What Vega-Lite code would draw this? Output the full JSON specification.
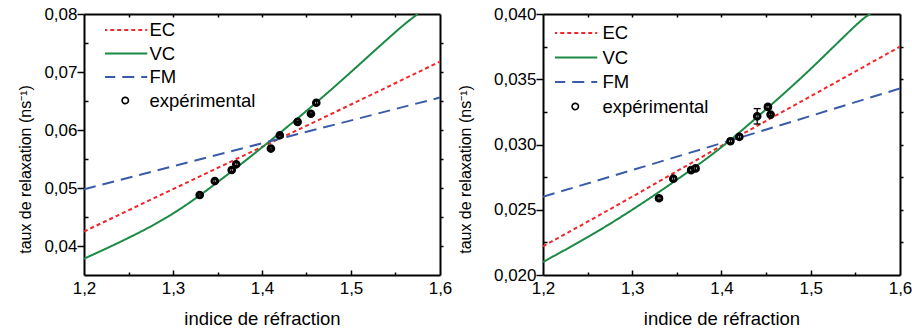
{
  "$schema": "https://vega.github.io/schema/vega-lite/v6.json",
  "padding": {"left": 17, "top": 5, "right": 2, "bottom": 2},
  "bounds": "flush",
  "spacing": 103,
  "config": {
    "font": "Liberation Sans",
    "view": {"stroke": null},
    "axis": {"grid": false, "domainColor": "black", "tickColor": "black", "labelColor": "black", "titleColor": "black", "tickWidth": 1.5, "domainWidth": 2}
  },
  "resolve": {"scale": {"color": "independent", "strokeDash": "independent"}},
  "datasets": {
    "courbes525": [
      {"n": 1.2, "tau": 0.0425, "modele": "EC"},
      {"n": 1.3, "tau": 0.0498, "modele": "EC"},
      {"n": 1.4, "tau": 0.0571, "modele": "EC"},
      {"n": 1.5, "tau": 0.0644, "modele": "EC"},
      {"n": 1.6, "tau": 0.0718, "modele": "EC"},
      {"n": 1.2, "tau": 0.0378, "modele": "VC"},
      {"n": 1.25, "tau": 0.0414, "modele": "VC"},
      {"n": 1.3, "tau": 0.0456, "modele": "VC"},
      {"n": 1.35, "tau": 0.051, "modele": "VC"},
      {"n": 1.4, "tau": 0.057, "modele": "VC"},
      {"n": 1.45, "tau": 0.0633, "modele": "VC"},
      {"n": 1.5, "tau": 0.07, "modele": "VC"},
      {"n": 1.55, "tau": 0.0769, "modele": "VC"},
      {"n": 1.575, "tau": 0.08, "modele": "VC"},
      {"n": 1.2, "tau": 0.0498, "modele": "FM"},
      {"n": 1.4, "tau": 0.0577, "modele": "FM"},
      {"n": 1.6, "tau": 0.0656, "modele": "FM"}
    ],
    "mesures525": [
      {"n": 1.33, "tau": 0.0488, "tau_min": 0.0488, "tau_max": 0.0488},
      {"n": 1.347, "tau": 0.0512, "tau_min": 0.0509, "tau_max": 0.0515},
      {"n": 1.366, "tau": 0.0531, "tau_min": 0.0528, "tau_max": 0.0534},
      {"n": 1.371, "tau": 0.0541, "tau_min": 0.0538, "tau_max": 0.0544},
      {"n": 1.41, "tau": 0.0568, "tau_min": 0.0567, "tau_max": 0.0569},
      {"n": 1.42, "tau": 0.0591, "tau_min": 0.059, "tau_max": 0.0592},
      {"n": 1.44, "tau": 0.0614, "tau_min": 0.0613, "tau_max": 0.0615},
      {"n": 1.455, "tau": 0.0628, "tau_min": 0.0627, "tau_max": 0.0629},
      {"n": 1.461, "tau": 0.0647, "tau_min": 0.0644, "tau_max": 0.065}
    ],
    "courbes655": [
      {"n": 1.2, "tau": 0.0222, "modele": "EC"},
      {"n": 1.3, "tau": 0.026, "modele": "EC"},
      {"n": 1.4, "tau": 0.0299, "modele": "EC"},
      {"n": 1.5, "tau": 0.0337, "modele": "EC"},
      {"n": 1.6, "tau": 0.0375, "modele": "EC"},
      {"n": 1.2, "tau": 0.021, "modele": "VC"},
      {"n": 1.25, "tau": 0.0229, "modele": "VC"},
      {"n": 1.3, "tau": 0.025, "modele": "VC"},
      {"n": 1.35, "tau": 0.0273, "modele": "VC"},
      {"n": 1.4, "tau": 0.0298, "modele": "VC"},
      {"n": 1.45, "tau": 0.0327, "modele": "VC"},
      {"n": 1.5, "tau": 0.0358, "modele": "VC"},
      {"n": 1.55, "tau": 0.0391, "modele": "VC"},
      {"n": 1.567, "tau": 0.04, "modele": "VC"},
      {"n": 1.2, "tau": 0.026, "modele": "FM"},
      {"n": 1.4, "tau": 0.0301, "modele": "FM"},
      {"n": 1.6, "tau": 0.0343, "modele": "FM"}
    ],
    "mesures655": [
      {"n": 1.33, "tau": 0.02588, "tau_min": 0.02573, "tau_max": 0.02603},
      {"n": 1.346, "tau": 0.02738, "tau_min": 0.02723, "tau_max": 0.02753},
      {"n": 1.366, "tau": 0.02804, "tau_min": 0.02789, "tau_max": 0.02819},
      {"n": 1.371, "tau": 0.02817, "tau_min": 0.02802, "tau_max": 0.02832},
      {"n": 1.41, "tau": 0.03025, "tau_min": 0.0301, "tau_max": 0.0304},
      {"n": 1.42, "tau": 0.03059, "tau_min": 0.03044, "tau_max": 0.03074},
      {"n": 1.44, "tau": 0.03216, "tau_min": 0.03157, "tau_max": 0.03275},
      {"n": 1.452, "tau": 0.03288, "tau_min": 0.03273, "tau_max": 0.03303},
      {"n": 1.455, "tau": 0.03229, "tau_min": 0.03222, "tau_max": 0.03236}
    ]
  },
  "hconcat": [
    {
      "width": 356,
      "height": 261,
      "resolve": {"axis": {"x": "independent", "y": "independent"}},
      "layer": [
        {
          "data": {"name": "courbes525"},
          "mark": {"type": "line", "strokeWidth": 2, "interpolate": "natural", "clip": true},
          "encoding": {
            "x": {"field": "n", "type": "quantitative", "scale": {"domain": [1.2, 1.6], "nice": false, "zero": false},
              "axis": {"orient": "bottom", "values": [1.2, 1.3, 1.4, 1.5, 1.6], "ticks": false, "tickSize": 0, "labelPadding": 5, "labelFontSize": 17, "labelFlush": false, "labelOverlap": false, "labelExpr": "replace(format(datum.value, '.1f'), '.', ',')", "title": "indice de réfraction", "titleFontSize": 18.5, "titleFontWeight": "normal", "titlePadding": 13}},
            "y": {"field": "tau", "type": "quantitative", "scale": {"domain": [0.035, 0.08], "nice": false, "zero": false},
              "axis": {"orient": "left", "values": [0.04, 0.05, 0.06, 0.07, 0.08], "ticks": false, "tickSize": 0, "labelPadding": 7, "labelFontSize": 17, "labelFlush": false, "labelOverlap": false, "labelExpr": "replace(format(datum.value, '.2f'), '.', ',')", "title": "taux de relaxation (ns⁻¹)", "titleFontSize": 16, "titleFontWeight": "normal", "titlePadding": 10, "titleY": 155}},
            "color": {"field": "modele", "type": "nominal", "scale": {"domain": ["EC", "VC", "FM", "expérimental"], "range": ["#f5262b", "#1b8a45", "#3a5ba8", "black"]},
              "legend": {"orient": "none", "legendX": 21, "legendY": 6.75, "title": null, "symbolType": "stroke", "symbolSize": 1936, "symbolStrokeWidth": 2, "symbolOffset": 11, "clipHeight": 18.5, "labelFontSize": 18.5, "labelColor": "black", "labelOffset": 15, "rowPadding": 4.5, "padding": 0,
                "encode": {"symbols": {"update": {
                  "shape": {"signal": "datum.value === 'expérimental' ? 'circle' : 'stroke'"},
                  "size": {"signal": "datum.value === 'expérimental' ? 40 : 1936"},
                  "fill": {"signal": "datum.value === 'expérimental' ? 'white' : 'transparent'"},
                  "strokeWidth": {"signal": "datum.value === 'expérimental' ? 1.6 : 2"}}}}}},
            "strokeDash": {"field": "modele", "type": "nominal", "scale": {"domain": ["EC", "VC", "FM", "expérimental"], "range": [[4, 3], [1, 0], [12, 7], [1, 0]]},
              "legend": {"orient": "none", "legendX": 21, "legendY": 6.75, "title": null, "symbolType": "stroke", "symbolSize": 1936, "symbolStrokeWidth": 2, "symbolOffset": 11, "clipHeight": 18.5, "labelFontSize": 18.5, "labelColor": "black", "labelOffset": 15, "rowPadding": 4.5, "padding": 0,
                "encode": {"symbols": {"update": {
                  "shape": {"signal": "datum.value === 'expérimental' ? 'circle' : 'stroke'"},
                  "size": {"signal": "datum.value === 'expérimental' ? 40 : 1936"},
                  "fill": {"signal": "datum.value === 'expérimental' ? 'white' : 'transparent'"},
                  "strokeWidth": {"signal": "datum.value === 'expérimental' ? 1.6 : 2"}}}}}}
          }
        },
        {
          "data": {"name": "mesures525"},
          "mark": {"type": "point", "shape": "circle", "filled": false, "color": "black", "fill": "white", "fillOpacity": 1, "stroke": "black", "strokeWidth": 3, "size": 32, "opacity": 1},
          "encoding": {
            "x": {"field": "n", "type": "quantitative", "scale": {"domain": [1.2, 1.6], "nice": false, "zero": false},
              "axis": {"orient": "bottom", "values": [1.25, 1.35, 1.45, 1.55], "tickSize": -3, "labels": false, "domain": false, "title": null}},
            "y": {"field": "tau", "type": "quantitative", "scale": {"domain": [0.035, 0.08], "nice": false, "zero": false},
              "axis": {"orient": "left", "values": [0.045, 0.055, 0.065, 0.075], "tickSize": -4, "labels": false, "domain": false, "title": null}}
          }
        },
        {
          "data": {"name": "mesures525"},
          "mark": {"type": "rule", "color": "black", "strokeWidth": 1.3},
          "encoding": {
            "x": {"field": "n", "type": "quantitative", "scale": {"domain": [1.2, 1.6], "nice": false, "zero": false},
              "axis": {"orient": "bottom", "values": [1.3, 1.4, 1.5], "tickSize": -5, "labels": false, "domain": false, "title": null}},
            "y": {"field": "tau_min", "type": "quantitative", "scale": {"domain": [0.035, 0.08], "nice": false, "zero": false},
              "axis": {"orient": "left", "values": [0.04, 0.05, 0.06, 0.07, 0.08], "tickSize": 7, "labels": false, "domain": false, "title": null}},
            "y2": {"field": "tau_max"}
          }
        },
        {
          "data": {"name": "mesures525"},
          "mark": {"type": "tick", "orient": "horizontal", "color": "black", "size": 6, "thickness": 1.3, "opacity": 1},
          "encoding": {
            "x": {"field": "n", "type": "quantitative", "scale": {"domain": [1.2, 1.6], "nice": false, "zero": false}, "axis": null},
            "y": {"field": "tau_min", "type": "quantitative", "scale": {"domain": [0.035, 0.08], "nice": false, "zero": false}, "axis": null}
          }
        },
        {
          "data": {"name": "mesures525"},
          "mark": {"type": "tick", "orient": "horizontal", "color": "black", "size": 6, "thickness": 1.3, "opacity": 1},
          "encoding": {
            "x": {"field": "n", "type": "quantitative", "scale": {"domain": [1.2, 1.6], "nice": false, "zero": false}, "axis": null},
            "y": {"field": "tau_max", "type": "quantitative", "scale": {"domain": [0.035, 0.08], "nice": false, "zero": false}, "axis": null}
          }
        },
        {
          "mark": {"type": "text", "align": "right", "baseline": "middle", "fontSize": 18, "fontWeight": "bold", "color": "#828238"},
          "encoding": {
            "x": {"datum": 1.5843, "type": "quantitative", "scale": {"domain": [1.2, 1.6], "nice": false, "zero": false},
              "axis": {"orient": "top", "values": [1.25, 1.3, 1.35, 1.4, 1.45, 1.5, 1.55], "tickSize": -3, "labels": false, "domain": true, "title": null}},
            "y": {"datum": 0.0398, "type": "quantitative", "scale": {"domain": [0.035, 0.08], "nice": false, "zero": false},
              "axis": {"orient": "right", "values": [0.04, 0.045, 0.05, 0.055, 0.06, 0.065, 0.07, 0.075], "tickSize": 3, "labels": false, "domain": true, "title": null}},
            "text": {"value": "QD525"}
          }
        }
      ]
    },
    {
      "width": 357,
      "height": 261,
      "resolve": {"axis": {"x": "independent", "y": "independent"}},
      "layer": [
        {
          "data": {"name": "courbes655"},
          "mark": {"type": "line", "strokeWidth": 2, "interpolate": "natural", "clip": true},
          "encoding": {
            "x": {"field": "n", "type": "quantitative", "scale": {"domain": [1.2, 1.6], "nice": false, "zero": false},
              "axis": {"orient": "bottom", "values": [1.2, 1.3, 1.4, 1.5, 1.6], "ticks": false, "tickSize": 0, "labelPadding": 5, "labelFontSize": 17, "labelFlush": false, "labelOverlap": false, "labelExpr": "replace(format(datum.value, '.1f'), '.', ',')", "title": "indice de réfraction", "titleFontSize": 18.5, "titleFontWeight": "normal", "titlePadding": 13}},
            "y": {"field": "tau", "type": "quantitative", "scale": {"domain": [0.02, 0.04], "nice": false, "zero": false},
              "axis": {"orient": "left", "values": [0.02, 0.025, 0.03, 0.035, 0.04], "ticks": false, "tickSize": 0, "labelPadding": 7, "labelFontSize": 17, "labelFlush": false, "labelOverlap": false, "labelExpr": "replace(format(datum.value, '.3f'), '.', ',')", "title": "taux de relaxation (ns⁻¹)", "titleFontSize": 16, "titleFontWeight": "normal", "titlePadding": 20, "titleY": 155}},
            "color": {"field": "modele", "type": "nominal", "scale": {"domain": ["EC", "VC", "FM", "expérimental"], "range": ["#f5262b", "#1b8a45", "#3a5ba8", "black"]},
              "legend": {"orient": "none", "legendX": 12, "legendY": 9.75, "title": null, "symbolType": "stroke", "symbolSize": 1936, "symbolStrokeWidth": 2, "symbolOffset": 11, "clipHeight": 18.5, "labelFontSize": 18.5, "labelColor": "black", "labelOffset": 18, "rowPadding": 5.5, "padding": 0,
                "encode": {"symbols": {"update": {
                  "shape": {"signal": "datum.value === 'expérimental' ? 'circle' : 'stroke'"},
                  "size": {"signal": "datum.value === 'expérimental' ? 40 : 1936"},
                  "fill": {"signal": "datum.value === 'expérimental' ? 'white' : 'transparent'"},
                  "strokeWidth": {"signal": "datum.value === 'expérimental' ? 1.6 : 2"}}}}}},
            "strokeDash": {"field": "modele", "type": "nominal", "scale": {"domain": ["EC", "VC", "FM", "expérimental"], "range": [[4, 3], [1, 0], [12, 7], [1, 0]]},
              "legend": {"orient": "none", "legendX": 12, "legendY": 9.75, "title": null, "symbolType": "stroke", "symbolSize": 1936, "symbolStrokeWidth": 2, "symbolOffset": 11, "clipHeight": 18.5, "labelFontSize": 18.5, "labelColor": "black", "labelOffset": 18, "rowPadding": 5.5, "padding": 0,
                "encode": {"symbols": {"update": {
                  "shape": {"signal": "datum.value === 'expérimental' ? 'circle' : 'stroke'"},
                  "size": {"signal": "datum.value === 'expérimental' ? 40 : 1936"},
                  "fill": {"signal": "datum.value === 'expérimental' ? 'white' : 'transparent'"},
                  "strokeWidth": {"signal": "datum.value === 'expérimental' ? 1.6 : 2"}}}}}}
          }
        },
        {
          "data": {"name": "mesures655"},
          "mark": {"type": "point", "shape": "circle", "filled": false, "color": "black", "fill": "white", "fillOpacity": 1, "stroke": "black", "strokeWidth": 3, "size": 32, "opacity": 1},
          "encoding": {
            "x": {"field": "n", "type": "quantitative", "scale": {"domain": [1.2, 1.6], "nice": false, "zero": false},
              "axis": {"orient": "bottom", "values": [1.25, 1.35, 1.45, 1.55], "tickSize": -3, "labels": false, "domain": false, "title": null}},
            "y": {"field": "tau", "type": "quantitative", "scale": {"domain": [0.02, 0.04], "nice": false, "zero": false},
              "axis": {"orient": "left", "values": [0.0225, 0.0275, 0.0325, 0.0375], "tickSize": -4, "labels": false, "domain": false, "title": null}}
          }
        },
        {
          "data": {"name": "mesures655"},
          "mark": {"type": "rule", "color": "black", "strokeWidth": 1.3},
          "encoding": {
            "x": {"field": "n", "type": "quantitative", "scale": {"domain": [1.2, 1.6], "nice": false, "zero": false},
              "axis": {"orient": "bottom", "values": [1.3, 1.4, 1.5], "tickSize": -5, "labels": false, "domain": false, "title": null}},
            "y": {"field": "tau_min", "type": "quantitative", "scale": {"domain": [0.02, 0.04], "nice": false, "zero": false},
              "axis": {"orient": "left", "values": [0.02, 0.025, 0.03, 0.035, 0.04], "tickSize": 7, "labels": false, "domain": false, "title": null}},
            "y2": {"field": "tau_max"}
          }
        },
        {
          "data": {"name": "mesures655"},
          "mark": {"type": "tick", "orient": "horizontal", "color": "black", "size": 7, "thickness": 1.3, "opacity": 1},
          "encoding": {
            "x": {"field": "n", "type": "quantitative", "scale": {"domain": [1.2, 1.6], "nice": false, "zero": false}, "axis": null},
            "y": {"field": "tau_min", "type": "quantitative", "scale": {"domain": [0.02, 0.04], "nice": false, "zero": false}, "axis": null}
          }
        },
        {
          "data": {"name": "mesures655"},
          "mark": {"type": "tick", "orient": "horizontal", "color": "black", "size": 7, "thickness": 1.3, "opacity": 1},
          "encoding": {
            "x": {"field": "n", "type": "quantitative", "scale": {"domain": [1.2, 1.6], "nice": false, "zero": false}, "axis": null},
            "y": {"field": "tau_max", "type": "quantitative", "scale": {"domain": [0.02, 0.04], "nice": false, "zero": false}, "axis": null}
          }
        },
        {
          "mark": {"type": "text", "align": "right", "baseline": "middle", "fontSize": 18, "fontWeight": "bold", "color": "#ee2a2f"},
          "encoding": {
            "x": {"datum": 1.5817, "type": "quantitative", "scale": {"domain": [1.2, 1.6], "nice": false, "zero": false},
              "axis": {"orient": "top", "values": [1.25, 1.3, 1.35, 1.4, 1.45, 1.5, 1.55], "tickSize": -3, "labels": false, "domain": true, "title": null}},
            "y": {"datum": 0.022, "type": "quantitative", "scale": {"domain": [0.02, 0.04], "nice": false, "zero": false},
              "axis": {"orient": "right", "values": [0.0225, 0.025, 0.0275, 0.03, 0.0325, 0.035, 0.0375], "tickSize": 3, "labels": false, "domain": true, "title": null}},
            "text": {"value": "QD655"}
          }
        }
      ]
    }
  ]
}
